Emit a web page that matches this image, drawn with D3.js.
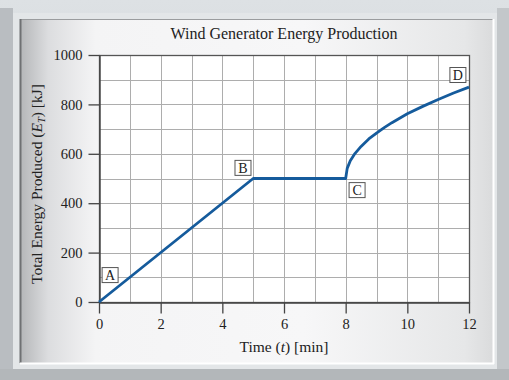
<!DOCTYPE html>
<html>
<head>
<meta charset="utf-8">
<script src="https://cdn.jsdelivr.net/npm/d3@7"></script>
<style>
  html, body { margin: 0; padding: 0; background: #d4d8db; }
  svg { display: block; }
  text { font-family: "Liberation Serif", "DejaVu Serif", serif; fill: #222; }
</style>
</head>
<body>
<div id="chart"></div>
<script>
// energy curve
var times = [0, 5, 8, 8.05, 8.15, 8.3, 8.5, 8.75, 9, 9.25, 9.5, 10, 10.5, 11, 11.5, 12];
var energy = [0, 500, 500, 541, 572, 601, 630, 660, 684, 706, 726, 762, 792, 820, 846, 870];

var xTicks = [0, 2, 4, 6, 8, 10, 12];
var yTicks = [0, 200, 400, 600, 800, 1000];

// point labels (placed in data coordinates)
var pointNames = ['A', 'B', 'C', 'D'];
var pointT = [0.36, 4.67, 8.37, 11.64];
var pointE = [109, 543, 453, 919];

var width = 509, height = 380;

var svg = d3.select('#chart')
    .append('svg')
    .attr('width', width)
    .attr('height', height);

var defs = svg.append('defs');
var bg = defs.append('linearGradient').attr('id', 'panel')
    .attr('x1', 0).attr('x2', 1).attr('y1', 0).attr('y2', 0);
bg.append('stop').attr('offset', '0%').attr('stop-color', '#b4b6b8');
bg.append('stop').attr('offset', '6%').attr('stop-color', '#dcdddf');
bg.append('stop').attr('offset', '16%').attr('stop-color', '#f4f4f5');
bg.append('stop').attr('offset', '60%').attr('stop-color', '#f7f7f8');
bg.append('stop').attr('offset', '94%').attr('stop-color', '#e6e7e8');
bg.append('stop').attr('offset', '100%').attr('stop-color', '#dadbdc');

var outer = defs.append('linearGradient').attr('id', 'outer')
    .attr('x1', 0).attr('x2', 0).attr('y1', 0).attr('y2', 1);
outer.append('stop').attr('offset', '0%').attr('stop-color', '#dde1e4');
outer.append('stop').attr('offset', '100%').attr('stop-color', '#c6cacd');

// bevelled frame
svg.append('rect').attr('width', width).attr('height', height).attr('fill', 'url(#outer)');
svg.append('rect').attr('x', 0).attr('y', 8).attr('width', 13).attr('height', height - 8).attr('fill', '#b9bdc1');
svg.append('rect').attr('x', 497).attr('y', 8).attr('width', 12).attr('height', height - 8).attr('fill', '#c3c7ca');
svg.append('rect').attr('x', 0).attr('y', 369).attr('width', width).attr('height', 11).attr('fill', '#b3b7ba');
svg.append('rect').attr('x', 13).attr('y', 13).attr('width', 484).attr('height', 356).attr('fill', '#e3e6e8');

svg.append('rect')
    .attr('x', 20).attr('y', 19)
    .attr('width', 473).attr('height', 344)
    .attr('fill', 'url(#panel)');
svg.append('line').attr('x1', 20).attr('x2', 493).attr('y1', 19.5).attr('y2', 19.5).attr('stroke', '#9a9c9e');
svg.append('line').attr('x1', 20.5).attr('x2', 20.5).attr('y1', 19).attr('y2', 363).attr('stroke', '#6f7173').attr('stroke-width', 2);
svg.append('line').attr('x1', 20).attr('x2', 494).attr('y1', 363.5).attr('y2', 363.5).attr('stroke', '#ffffff').attr('stroke-width', 2);
svg.append('line').attr('x1', 493.5).attr('x2', 493.5).attr('y1', 19).attr('y2', 364).attr('stroke', '#ffffff').attr('stroke-width', 2);

var x = d3.scaleLinear().domain([0, 12]).range([99, 469]);
var y = d3.scaleLinear().domain([0, 1000]).range([302, 55]);

// plot area
svg.append('rect')
    .attr('x', x(0)).attr('y', y(1000))
    .attr('width', x(12) - x(0)).attr('height', y(0) - y(1000))
    .attr('fill', '#ffffff');

var grid = svg.append('g').attr('stroke', '#adadad').attr('stroke-width', 1);
grid.selectAll('line.v').data(x.ticks(12)).enter().append('line')
    .attr('class', 'v')
    .attr('x1', function (d) { return Math.round(x(d)) + 0.5; })
    .attr('x2', function (d) { return Math.round(x(d)) + 0.5; })
    .attr('y1', y(0)).attr('y2', y(1000));
grid.selectAll('line.h').data(y.ticks(10)).enter().append('line')
    .attr('class', 'h')
    .attr('y1', function (d) { return Math.round(y(d)) + 0.5; })
    .attr('y2', function (d) { return Math.round(y(d)) + 0.5; })
    .attr('x1', x(0)).attr('x2', x(12));

// frame of the plot
svg.append('rect')
    .attr('x', Math.round(x(0)) + 0.5).attr('y', Math.round(y(1000)) + 0.5)
    .attr('width', Math.round(x(12)) - Math.round(x(0)))
    .attr('height', Math.round(y(0)) - Math.round(y(1000)))
    .attr('fill', 'none')
    .attr('stroke', '#555')
    .attr('stroke-width', 1.3);

var xAxis = svg.append('g')
    .attr('transform', 'translate(0,' + (Math.round(y(0)) + 0.5) + ')')
    .call(d3.axisBottom(x).tickValues(xTicks).tickSize(11).tickSizeOuter(0).tickPadding(5));
var yAxis = svg.append('g')
    .attr('transform', 'translate(' + (Math.round(x(0)) + 0.5) + ',0)')
    .call(d3.axisLeft(y).tickValues(yTicks).tickFormat(d3.format('d'))
        .tickSize(11).tickSizeOuter(0).tickPadding(6));

[xAxis, yAxis].forEach(function (ax) {
    ax.select('.domain').attr('stroke', '#444').attr('stroke-width', 1.4);
    ax.selectAll('.tick line').attr('stroke', '#444').attr('stroke-width', 1.3);
    ax.selectAll('.tick text')
        .attr('font-family', '"Liberation Serif", serif')
        .attr('font-size', 14.5)
        .attr('fill', '#222');
});

var data = times.map(function (t, i) { return { t: t, e: energy[i] }; });
var line = d3.line()
    .x(function (d) { return x(d.t); })
    .y(function (d) { return y(d.e); });

svg.append('path')
    .datum(data)
    .attr('d', line)
    .attr('fill', 'none')
    .attr('stroke', '#155b9c')
    .attr('stroke-width', 2.8)
    .attr('stroke-linejoin', 'round');

// point markers
var marks = svg.append('g').selectAll('g').data(pointNames).enter().append('g')
    .attr('transform', function (d, i) { return 'translate(' + x(pointT[i]) + ',' + y(pointE[i]) + ')'; });
marks.append('rect')
    .attr('x', -8).attr('y', -7.5).attr('width', 16).attr('height', 15)
    .attr('fill', '#fff')
    .attr('stroke', '#555')
    .attr('stroke-width', 1);
marks.append('text')
    .attr('text-anchor', 'middle')
    .attr('y', 5)
    .attr('font-size', 14)
    .text(function (d) { return d; });

// titles
svg.append('text')
    .attr('x', 284).attr('y', 39)
    .attr('text-anchor', 'middle')
    .attr('font-size', 16)
    .text('Wind Generator Energy Production');

var xt = svg.append('text')
    .attr('x', 284).attr('y', 352)
    .attr('text-anchor', 'middle')
    .attr('font-size', 15.5);
xt.append('tspan').text('Time (');
xt.append('tspan').attr('font-style', 'italic').text('t');
xt.append('tspan').text(') [min]');

var yt = svg.append('text')
    .attr('transform', 'translate(42,184) rotate(-90)')
    .attr('text-anchor', 'middle')
    .attr('font-size', 15.5);
yt.append('tspan').text('Total Energy Produced (');
yt.append('tspan').attr('font-style', 'italic').text('E');
yt.append('tspan').attr('font-style', 'italic').attr('font-size', 10.5).attr('dy', 3).text('T');
yt.append('tspan').attr('dy', -3).text(') [kJ]');
</script>
</body>
</html>
